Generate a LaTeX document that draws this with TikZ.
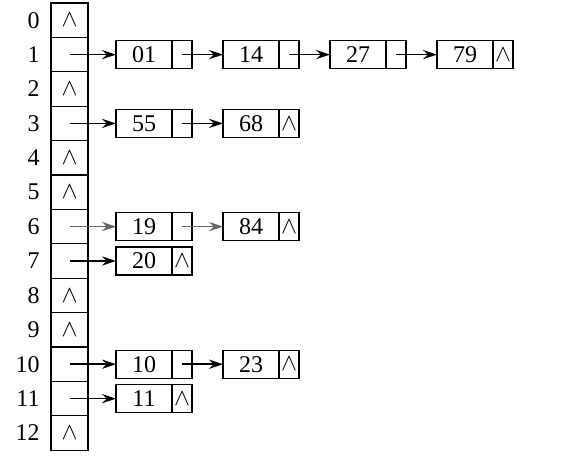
\documentclass[tikz,border=0pt]{standalone}
\usepackage{fontspec}
\setmainfont{Liberation Serif}
\usepackage{tikz}
\usetikzlibrary{arrows.meta, positioning}
\tikzset{
    slot/.style = {draw, line width=0.6pt, inner sep=0pt, outer sep=0pt,
        minimum width=18.5pt, minimum height=17.2pt},
    keycell/.style = {draw, line width=0.6pt, inner sep=0pt, outer sep=0pt,
        minimum width=28pt, minimum height=14pt},
    ptrcell/.style = {keycell, minimum width=10pt},
    idx/.style = {inner sep=0pt},
    link/.style = {-{Stealth[length=7pt, width=4.6pt, inset=2.4pt]}, line width=0.8pt},
    faintlink/.style = {link, line width=0.4pt, black!60},
}

\begin{document}
\begin{tikzpicture}[font=\fontsize{12}{14}\selectfont]
        \useasboundingbox (0,0) rectangle (281pt,-236pt);
        % hash table
        \foreach \i in {0,...,12} {
            \node [slot] (s\i) at (34.75pt, {-10.1pt-17.2pt*\i}) {};
            \node [idx, left=5.5pt of s\i] {\i};
        }
        \foreach \i in {0,2,4,5,8,9,12}
            \node at (s\i) {$\wedge$};
        % chain 1
        \node [keycell, right=14pt of s1] (k01) {01};
        \node [ptrcell, right=0pt of k01] (p01) {};
        \node [keycell, right=15.5pt of p01] (k14) {14};
        \node [ptrcell, right=0pt of k14] (p14) {};
        \node [keycell, right=15.5pt of p14] (k27) {27};
        \node [ptrcell, right=0pt of k27] (p27) {};
        \node [keycell, right=15.5pt of p27] (k79) {79};
        \node [ptrcell, right=0pt of k79] (p79) {$\wedge$};
        \draw [link] (s1.center) -- (k01);
        \draw [link] (p01.center) -- (k14);
        \draw [link] (p14.center) -- (k27);
        \draw [link] (p27.center) -- (k79);
        % chain 3
        \node [keycell, right=14pt of s3] (k55) {55};
        \node [ptrcell, right=0pt of k55] (p55) {};
        \node [keycell, right=15.5pt of p55] (k68) {68};
        \node [ptrcell, right=0pt of k68] (p68) {$\wedge$};
        \draw [link] (s3.center) -- (k55);
        \draw [link] (p55.center) -- (k68);
        % chain 6
        \node [keycell, right=14pt of s6] (k19) {19};
        \node [ptrcell, right=0pt of k19] (p19) {};
        \node [keycell, right=15.5pt of p19] (k84) {84};
        \node [ptrcell, right=0pt of k84] (p84) {$\wedge$};
        \draw [faintlink] (s6.center) -- (k19);
        \draw [faintlink] (p19.center) -- (k84);
        % chain 7
        \node [keycell, right=14pt of s7] (k20) {20};
        \node [ptrcell, right=0pt of k20] (p20) {$\wedge$};
        \draw [link] (s7.center) -- (k20);
        % chain 10
        \node [keycell, right=14pt of s10] (k10) {10};
        \node [ptrcell, right=0pt of k10] (p10) {};
        \node [keycell, right=15.5pt of p10] (k23) {23};
        \node [ptrcell, right=0pt of k23] (p23) {$\wedge$};
        \draw [link] (s10.center) -- (k10);
        \draw [link] (p10.center) -- (k23);
        % chain 11
        \node [keycell, right=14pt of s11] (k11) {11};
        \node [ptrcell, right=0pt of k11] (p11) {$\wedge$};
        \draw [link] (s11.center) -- (k11);
\end{tikzpicture}
\end{document}
